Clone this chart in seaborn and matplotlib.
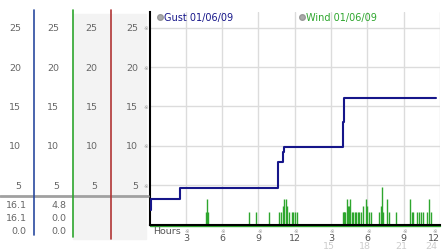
import matplotlib
matplotlib.use("Agg")
import matplotlib.pyplot as plt
from matplotlib.patches import Rectangle, Circle
import seaborn as sns
import pandas as pd

# ---- data ----
gust_hours = [0.05, 0.1, 2.5, 2.55, 10.65, 11.0, 11.1, 16.0, 16.07, 23.65]
gust_speed = [1.8, 3.2, 4.1, 4.7, 8.0, 9.2, 9.9, 13.0, 16.1, 16.1]

wind_hours = [4.70, 4.78, 4.86, 8.2, 8.83, 9.88, 10.7, 10.85, 11.0, 11.12, 11.25,
              11.36, 11.53, 11.75, 11.89, 12.05, 12.19,
              16.0, 16.05, 16.1, 16.15, 16.3, 16.38, 16.47, 16.57, 16.7,
              16.85, 16.95, 17.05, 17.2, 17.3, 17.45, 17.67, 17.87, 18.0, 18.17, 18.33,
              18.97, 19.1, 19.19, 19.32, 19.65, 19.79, 20.37,
              21.53, 21.67, 21.8, 22.13, 22.3, 22.46, 22.63, 22.96, 23.12, 23.24]
wind_speed = [1.6, 3.2, 1.6, 1.6, 1.6, 1.6, 1.6, 1.6, 2.4, 3.2, 3.2,
              2.4, 1.6, 1.6, 1.6, 1.6, 1.6,
              1.6, 1.6, 1.6, 1.6, 3.2, 2.4, 2.4, 3.2, 1.6,
              1.6, 1.6, 1.6, 1.6, 1.6, 1.6, 2.4, 3.2, 2.4, 1.6, 1.6,
              1.6, 2.4, 4.8, 1.6, 3.2, 1.6, 1.6,
              3.2, 1.6, 1.6, 1.6, 1.6, 1.6, 1.6, 1.6, 3.2, 1.6]

y_ticks = [25, 20, 15, 10, 5]
x_ticks = [3, 6, 9, 12, 15, 18, 21, 24]
x_labels = ["3", "6", "9", "12", "3", "6", "9", "12"]
x_labels2 = ["15", "18", "21", "24"]
gust_stats = ["16.1", "16.1", "0.0"]
wind_stats = ["4.8", "0.0", "0.0"]
legend_labels = ["Gust 01/06/09", "Wind 01/06/09"]

NAVY = "#16168a"
GREEN = "#2ea62e"
BLUE = "#2a4aa0"
RED = "#b03535"
TXT = "#666666"

sns.set_theme(style="white")
plt.rcParams["font.family"] = ["DejaVu Sans"]

W, H = 442, 253
fig = plt.figure(figsize=(W / 100, H / 100), dpi=100)
fig.patch.set_facecolor("white")

bottom = (H - 225.5) / H
height = (225.5 - 13) / H
ax = fig.add_axes([149.5 / W, bottom, (440 - 149.5) / W, height])
axl = fig.add_axes([0, bottom, 149.5 / W, height], sharey=ax)

# ---- main plot ----
ax.set_xlim(0, 24)
ax.set_ylim(0, 27)
for y in y_ticks:
    ax.axhline(y, color="#dcdcdc", lw=1, zorder=0)
for x in x_ticks:
    ax.axvline(x, color="#dcdcdc", lw=1, zorder=0)

ax.axhline(-0.15, color=GREEN, lw=1, clip_on=False, zorder=1)
ax.vlines(wind_hours, 0, wind_speed, color=GREEN, lw=1, zorder=2)
sns.lineplot(x=gust_hours, y=gust_speed, ax=ax, color=NAVY, lw=1.5,
             drawstyle="steps-post", sort=False, zorder=3)

for s in ["top", "right"]:
    ax.spines[s].set_visible(False)
ax.spines["left"].set_color("black")
ax.spines["left"].set_linewidth(1.5)
ax.spines["bottom"].set_color("black")
ax.spines["bottom"].set_linewidth(1.5)
ax.set_xticks([])
ax.set_yticks([])
ax.set_facecolor("white")

# x tick labels
for i, (x, lab) in enumerate(zip(x_ticks, x_labels)):
    xx = min(x, 23.5)
    ax.text(xx + 0.08, -0.75, "※", fontsize=4, color="#999999", ha="center", va="center",
            clip_on=False)
    ax.text(xx, -1.6, lab, fontsize=6.8, color="#555555", ha="center", va="center",
            clip_on=False)
for x, lab in zip(x_ticks[4:], x_labels2):
    xx = min(x, 23.5) - 0.2
    ax.text(xx, -2.65, lab, fontsize=6.8, color="#cccccc", ha="center", va="center",
            clip_on=False)
ax.text(0.3, -0.8, "Hours", fontsize=6.8, color="#555555", ha="left", va="center",
        clip_on=False)

# legend
leg_x = [0.85, 12.6]
leg_c = [NAVY, GREEN]
for lx, lab, c in zip(leg_x, legend_labels, leg_c):
    ax.plot([lx], [26.4], marker="o", ms=4, color="#aaaaaa", mec="#999999", clip_on=False)
    ax.text(lx + 0.35, 26.4, lab, fontsize=7, color=c, ha="left", va="center")

# ---- left scale panel ----
axl.set_xlim(0, 149.5)
axl.set_axis_off()
axl.add_patch(Rectangle((73, -1.84), 38, 28.6, color="#f3f3f3", clip_on=False, zorder=0))
axl.add_patch(Rectangle((112, -1.84), 34, 28.6, color="#f3f3f3", clip_on=False, zorder=0))
axl.plot([33.5, 33.5], [-1.3, 27.2], color=BLUE, lw=1.2, clip_on=False)
axl.plot([72.5, 72.5], [-1.6, 27.2], color=GREEN, lw=1.2, clip_on=False)
axl.plot([111.3, 111.3], [-1.84, 27.2], color=RED, lw=1.2, clip_on=False)
axl.plot([0, 148], [3.68, 3.68], color="#a0a0a0", lw=2, clip_on=False, zorder=1)

col_x = [20.8, 58.8, 97.5, 138]
for cx in col_x:
    for y in y_ticks:
        axl.text(cx, y, str(y), fontsize=6.8, color=TXT, ha="right", va="center")
for y in y_ticks:
    axl.text(146, y, "※", fontsize=4, color="#999999", ha="center", va="center")

row_y = [2.6, 0.95, -0.8]
for ry, g, w in zip(row_y, gust_stats, wind_stats):
    axl.text(26.5, ry, g, fontsize=6.8, color=TXT, ha="right", va="center", clip_on=False)
    axl.text(66, ry, w, fontsize=6.8, color=TXT, ha="right", va="center", clip_on=False)

fig.savefig("out.png", dpi=100, facecolor="white")
